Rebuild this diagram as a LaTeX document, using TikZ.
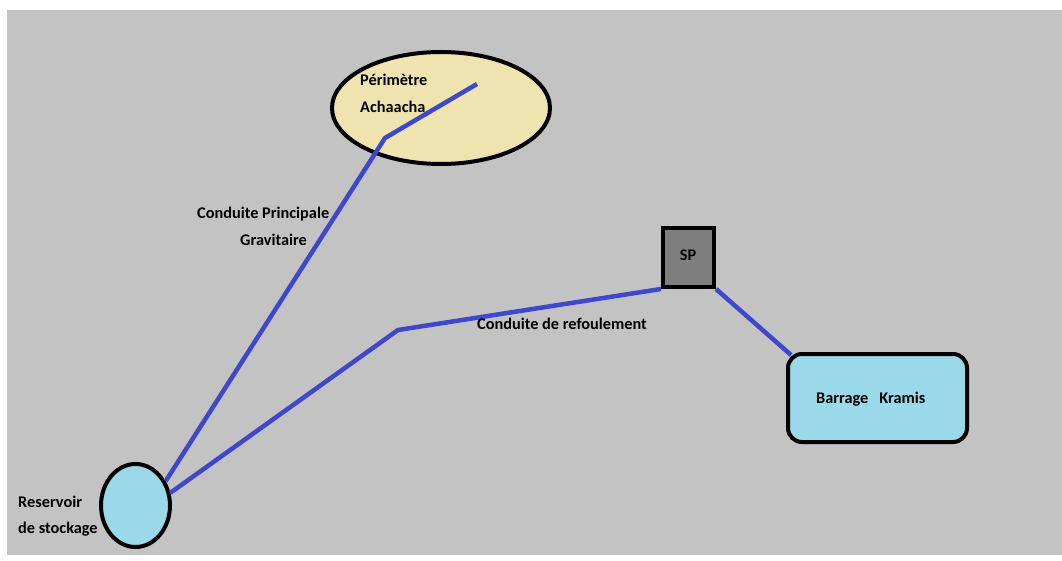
\documentclass[tikz,border=0pt]{standalone}
\usepackage{fontspec}
\setmainfont{Carlito}
\usetikzlibrary{shapes.geometric}
\definecolor{bgrey}{HTML}{C3C3C3}
\definecolor{pipe}{HTML}{3F48CC}
\definecolor{sand}{HTML}{EFE4B0}
\definecolor{water}{HTML}{99D9EA}
\definecolor{station}{HTML}{7F7F7F}
\tikzset{
  every node/.style={font=\fontsize{16.3}{19}\selectfont\bfseries, text=black},
  site/.style={draw=black, line width=4pt, inner sep=0pt},
  pipeline/.style={draw=pipe, line width=4.5pt, line join=miter},
  lbl/.style={inner sep=0pt, align=left},
}
\begin{document}
\begin{tikzpicture}[x=1pt, y=-1pt]
  % page and grey canvas
  \fill[white] (0,0) rectangle (1062,561);
  \fill[bgrey] (7,10) rectangle (1062,555);
  \useasboundingbox (0,0) rectangle (1062,561);

  % sites
  \node[site, ellipse, fill=sand, minimum width=218pt, minimum height=112pt] (perim) at (441,108) {};
  \node[site, ellipse, fill=water, minimum width=69pt, minimum height=83pt] (res) at (135.5,505.5) {};
  \node[site, rectangle, fill=station, minimum width=51pt, minimum height=59pt] (sp) at (688.5,257.5) {};
  \node[site, rectangle, rounded corners=14pt, fill=water, minimum width=179pt, minimum height=88pt] (bar) at (877.5,398) {};

  % pipe bends
  \coordinate (pin) at (477,84);
  \coordinate (bendA) at (385,138);
  \coordinate (bendB) at (398,330);
  \coordinate (barin) at (791,355);

  % gravity main and delivery line
  \draw[pipeline] (pin) -- (bendA) -- (res.39);
  \draw[pipeline] (res.20) -- (bendB) -- (sp.south west);
  \draw[pipeline] (sp.south east) -- (barin);

  % labels
  \node[lbl, anchor=west] (tperim) at (360,93.5) {Périmètre\\[8pt]Achaacha};
  \node[lbl, anchor=west] (tgrav) at (197,226.5) {Conduite Principale\\[8pt]\hspace*{43pt}Gravitaire};
  \node[lbl, anchor=west] (tref) at (477,324) {Conduite de refoulement};
  \node[lbl] (tsp) at (688,255) {SP};
  \node[lbl, anchor=west] (tbar) at (816,399) {Barrage~~~Kramis};
  \node[lbl, anchor=west] (tres) at (18,516) {Reservoir\\[7pt]de stockage};
\end{tikzpicture}
\end{document}
